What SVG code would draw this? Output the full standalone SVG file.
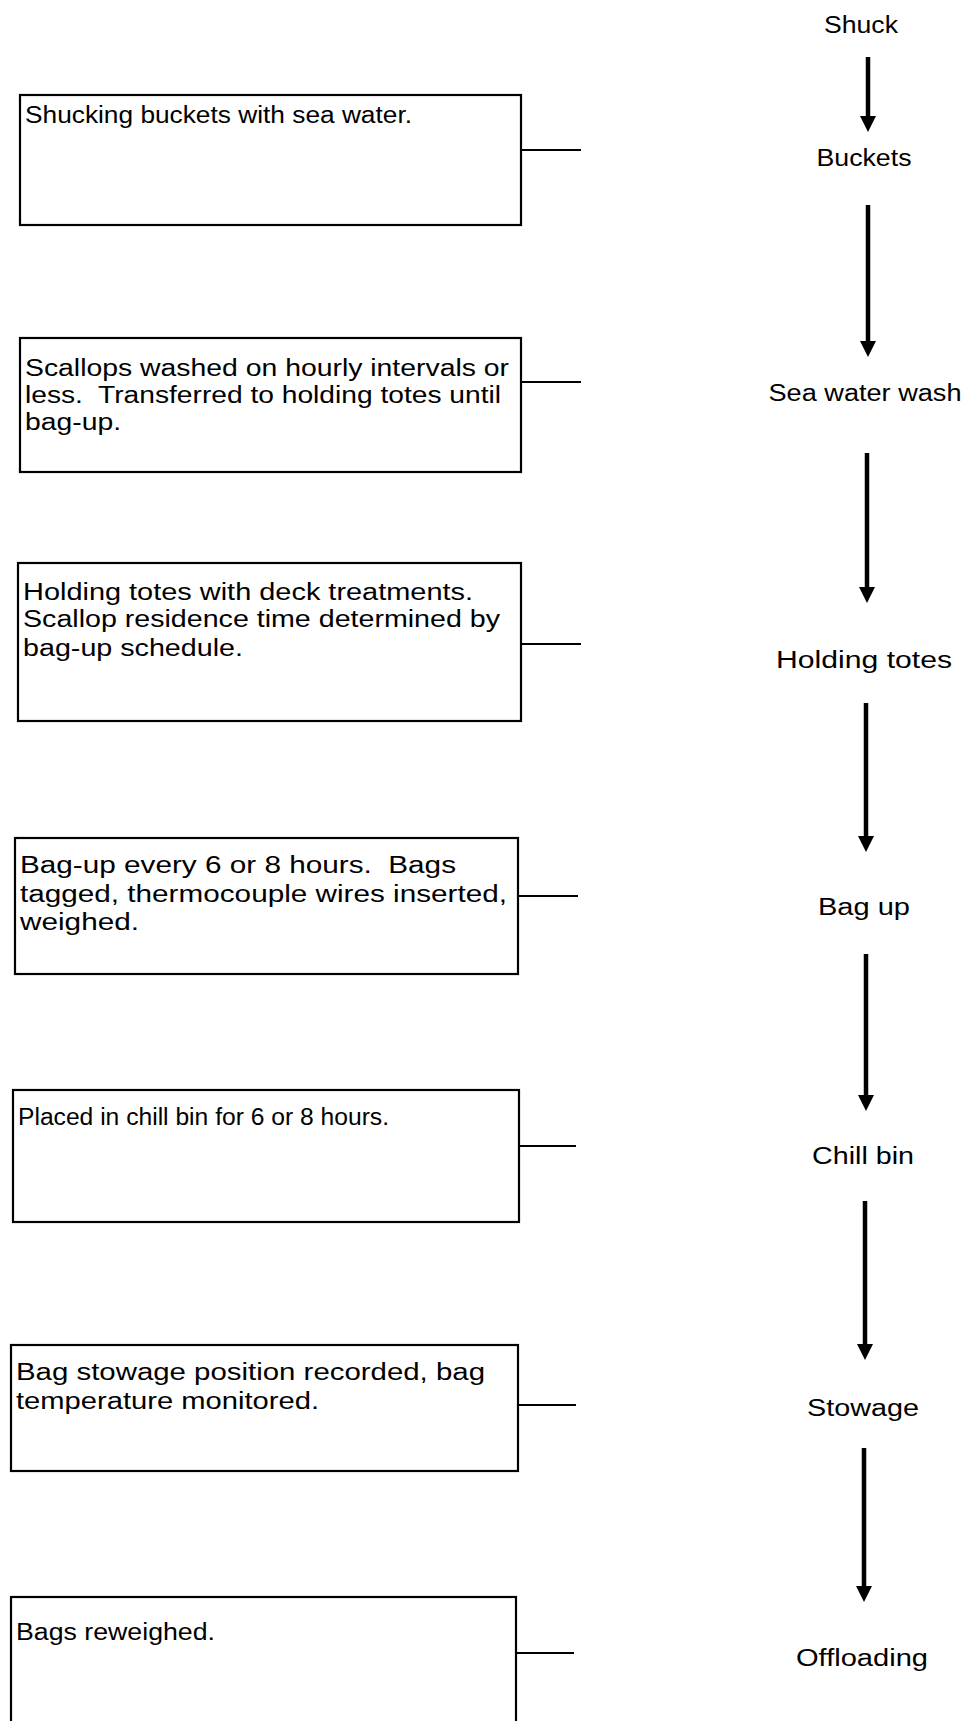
<svg xmlns="http://www.w3.org/2000/svg" width="961" height="1721" viewBox="0 0 961 1721">
<style>
  .box { fill: #ffffff; stroke: #000000; stroke-width: 2.2; }
  .t { font-family: "Liberation Sans", Arial, sans-serif; font-size: 23px; fill: #000000; white-space: pre; }
  .lbl { font-family: "Liberation Sans", Arial, sans-serif; font-size: 23px; fill: #000000; text-anchor: middle; }
  .conn { stroke: #000000; stroke-width: 2.2; fill: none; }
  .arr { stroke: #000000; stroke-width: 4.5; fill: none; }
</style>
<defs>
  <marker id="ah" viewBox="0 0 16 16" refX="2" refY="8" markerWidth="16" markerHeight="16" markerUnits="userSpaceOnUse" orient="auto">
    <path d="M0,0 L16,8 L0,16 Z" fill="#000000"/>
  </marker>
</defs>
<rect width="961" height="1721" fill="#ffffff"/>

<g id="stage-shuck"><text class="lbl" x="861" y="33" textLength="74" lengthAdjust="spacingAndGlyphs">Shuck</text></g>
<g id="stage-buckets"><text class="lbl" x="864" y="166" textLength="95" lengthAdjust="spacingAndGlyphs">Buckets</text></g>
<g id="stage-wash"><text class="lbl" x="865" y="401" textLength="193" lengthAdjust="spacingAndGlyphs">Sea water wash</text></g>
<g id="stage-totes"><text class="lbl" x="864" y="668" textLength="176" lengthAdjust="spacingAndGlyphs">Holding totes</text></g>
<g id="stage-bagup"><text class="lbl" x="864" y="915" textLength="92" lengthAdjust="spacingAndGlyphs">Bag up</text></g>
<g id="stage-chill"><text class="lbl" x="863" y="1164" textLength="102" lengthAdjust="spacingAndGlyphs">Chill bin</text></g>
<g id="stage-stowage"><text class="lbl" x="863" y="1416" textLength="112" lengthAdjust="spacingAndGlyphs">Stowage</text></g>
<g id="stage-offloading"><text class="lbl" x="862" y="1666" textLength="132" lengthAdjust="spacingAndGlyphs">Offloading</text></g>

<g id="note-buckets">
  <rect class="box" x="20" y="95" width="501" height="130"/>
  <text class="t" x="25" y="123" textLength="387" lengthAdjust="spacingAndGlyphs">Shucking buckets with sea water.</text>
</g>
<g id="note-wash">
  <rect class="box" x="20" y="338" width="501" height="134"/>
  <text class="t" x="25" y="376" textLength="484" lengthAdjust="spacingAndGlyphs">Scallops washed on hourly intervals or</text>
  <text class="t" x="25" y="403" textLength="476" lengthAdjust="spacingAndGlyphs">less.  Transferred to holding totes until</text>
  <text class="t" x="25" y="430" textLength="96" lengthAdjust="spacingAndGlyphs">bag-up.</text>
</g>
<g id="note-totes">
  <rect class="box" x="18" y="563" width="503" height="158"/>
  <text class="t" x="23" y="600" textLength="450" lengthAdjust="spacingAndGlyphs">Holding totes with deck treatments.</text>
  <text class="t" x="23" y="627" textLength="477" lengthAdjust="spacingAndGlyphs">Scallop residence time determined by</text>
  <text class="t" x="23" y="656" textLength="220" lengthAdjust="spacingAndGlyphs">bag-up schedule.</text>
</g>
<g id="note-bagup">
  <rect class="box" x="15" y="838" width="503" height="136"/>
  <text class="t" x="20" y="873" textLength="436" lengthAdjust="spacingAndGlyphs">Bag-up every 6 or 8 hours.  Bags</text>
  <text class="t" x="20" y="902" textLength="487" lengthAdjust="spacingAndGlyphs">tagged, thermocouple wires inserted,</text>
  <text class="t" x="20" y="930" textLength="119" lengthAdjust="spacingAndGlyphs">weighed.</text>
</g>
<g id="note-chill">
  <rect class="box" x="13" y="1090" width="506" height="132"/>
  <text class="t" x="18" y="1125" textLength="371" lengthAdjust="spacingAndGlyphs">Placed in chill bin for 6 or 8 hours.</text>
</g>
<g id="note-stowage">
  <rect class="box" x="11" y="1345" width="507" height="126"/>
  <text class="t" x="16" y="1380" textLength="469" lengthAdjust="spacingAndGlyphs">Bag stowage position recorded, bag</text>
  <text class="t" x="16" y="1409" textLength="303" lengthAdjust="spacingAndGlyphs">temperature monitored.</text>
</g>
<g id="note-offloading">
  <rect class="box" x="11" y="1597" width="505" height="140"/>
  <text class="t" x="16" y="1640" textLength="199" lengthAdjust="spacingAndGlyphs">Bags reweighed.</text>
</g>

<g id="connectors">
  <line class="conn" x1="521" y1="150" x2="581" y2="150"/>
  <line class="conn" x1="521" y1="382" x2="581" y2="382"/>
  <line class="conn" x1="521" y1="644" x2="581" y2="644"/>
  <line class="conn" x1="518" y1="896" x2="578" y2="896"/>
  <line class="conn" x1="519" y1="1146" x2="576" y2="1146"/>
  <line class="conn" x1="518" y1="1405" x2="576" y2="1405"/>
  <line class="conn" x1="516" y1="1653" x2="574" y2="1653"/>

  <line class="arr" x1="868" y1="57" x2="868" y2="118" marker-end="url(#ah)"/>
  <line class="arr" x1="868" y1="205" x2="868" y2="343" marker-end="url(#ah)"/>
  <line class="arr" x1="867" y1="453" x2="867" y2="589" marker-end="url(#ah)"/>
  <line class="arr" x1="866" y1="703" x2="866" y2="838" marker-end="url(#ah)"/>
  <line class="arr" x1="866" y1="954" x2="866" y2="1097" marker-end="url(#ah)"/>
  <line class="arr" x1="865" y1="1201" x2="865" y2="1346" marker-end="url(#ah)"/>
  <line class="arr" x1="864" y1="1448" x2="864" y2="1588" marker-end="url(#ah)"/>
</g>
</svg>
